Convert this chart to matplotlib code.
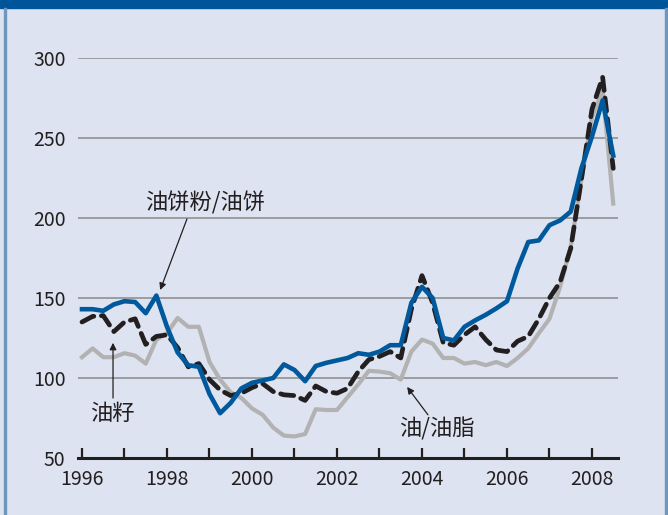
import matplotlib
matplotlib.use('Agg')
import matplotlib.pyplot as plt
from matplotlib.patches import Rectangle

plt.rcParams['font.family'] = ['Noto Sans CJK SC', 'DejaVu Sans']

# quarterly, 1996 Q1 .. 2008 Q3
years = [1996 + 0.25 * i for i in range(51)]

meal = [143, 143, 142, 146, 148, 147.5, 140.5, 151.5, 132, 116,
        108, 107, 90, 78, 84.5, 93.5, 97, 98.5, 100, 108.5,
        105, 98, 107.5, 109.5, 111, 112.5, 115.5, 114.5, 116.5, 120.5,
        120.5, 147, 157, 150, 125, 123.5, 132, 136, 139.5, 143.5,
        148, 168.5, 185, 186, 195.5, 198.5, 204, 231, 251, 273.5,
        239]

seeds = [135, 138.5, 139, 129, 135, 137, 121, 126, 127, 119,
         107, 109, 99, 92.5, 89, 90.5, 94, 96.5, 91.5, 89.5,
         89, 86, 95, 91.5, 90.5, 93.5, 104, 111.5, 113.5, 116.5,
         112.5, 143, 164, 147, 122, 120.5, 127, 132, 124, 117.5,
         116.5, 123, 126, 137, 150, 160, 181, 224, 268, 288,
         231]

oils = [113, 118.5, 113, 113, 115.5, 114, 109, 124, 128, 137.5,
        132, 132, 110, 99, 91, 87.5, 81, 77, 69, 64,
        63.5, 65, 80.5, 80, 80, 88, 96, 104.5, 104, 103,
        99, 116.5, 124, 121.5, 112.5, 112.5, 109, 110, 108, 110,
        107.5, 112.5, 118.5, 128, 137, 157, 182, 224, 263, 280,
        209]

yticks = [50, 100, 150, 200, 250, 300]
xlabels = [1996, 1998, 2000, 2002, 2004, 2006, 2008]

bg = '#dde3f0'
fig = plt.figure(figsize=(6.68, 5.15), dpi=100, facecolor=bg)

# frame: top bar and side borders
fig.patches.append(Rectangle((0, 1 - 8 / 515), 1, 8 / 515, transform=fig.transFigure,
                             color='#00559a', zorder=0))
fig.patches.append(Rectangle((4 / 668, 0), 2 / 668, 1 - 8 / 515, transform=fig.transFigure,
                             color='#6f96bd', zorder=0))
fig.patches.append(Rectangle((665 / 668, 0), 3 / 668, 1 - 8 / 515, transform=fig.transFigure,
                             color='#6f96bd', zorder=0))

ax = fig.add_axes([78 / 668, 57 / 515, 540 / 668, 400 / 515])
ax.set_facecolor(bg)
ax.set_xlim(1995.906, 2008.612)
ax.set_ylim(50, 300)

for v in yticks[1:]:
    ax.axhline(v, color='#8a8a8a', lw=1.1, zorder=1)

ax.plot(years, oils, color='#b2b2b2', lw=3.0, zorder=2, clip_on=False)
ax.plot(years, seeds, color='#231f20', lw=3.4, zorder=3, clip_on=False,
        dashes=(2.8, 1.6), dash_capstyle='round')
ax.plot(years, meal, color='#00599c', lw=3.3, zorder=4, clip_on=False)

for s in ['top', 'right', 'left']:
    ax.spines[s].set_visible(False)
ax.spines['bottom'].set_linewidth(2.2)
ax.spines['bottom'].set_color('#231f20')

ax.set_yticks(yticks)
ax.set_yticklabels([str(v) for v in yticks])
ax.tick_params(axis='y', length=0, pad=9, labelsize=14, labelcolor='#231f20')
for lbl in ax.get_yticklabels():
    if lbl.get_text() == '50':
        lbl.set_y(52)
ax.set_xticks(xlabels)
ax.set_xticks(range(1996, 2009), minor=True)
ax.set_xticklabels([str(v) for v in xlabels])
ax.tick_params(axis='x', which='both', direction='in', length=7, width=1.6,
               color='#231f20', pad=8, labelsize=14, labelcolor='#231f20')

arrow = dict(arrowstyle='-|>', lw=0.9, color='#231f20', mutation_scale=10,
             shrinkA=0, shrinkB=0)
ax.annotate('', xy=(1997.84, 155), xytext=(1998.47, 199.4), arrowprops=arrow)
ax.text(1998.89, 209.4, '油饼粉/油饼', ha='center', va='center', fontsize=16, color='#231f20')
ax.annotate('', xy=(1996.73, 122), xytext=(1996.73, 87.5), arrowprops=arrow)
ax.text(1996.71, 78, '油籽', ha='center', va='center', fontsize=16, color='#231f20')
ax.annotate('', xy=(2003.65, 94.4), xytext=(2004.14, 77), arrowprops=arrow)
ax.text(2004.35, 68, '油/油脂', ha='center', va='center', fontsize=16, color='#231f20')

plt.savefig('out.png', dpi=100, facecolor=bg)
